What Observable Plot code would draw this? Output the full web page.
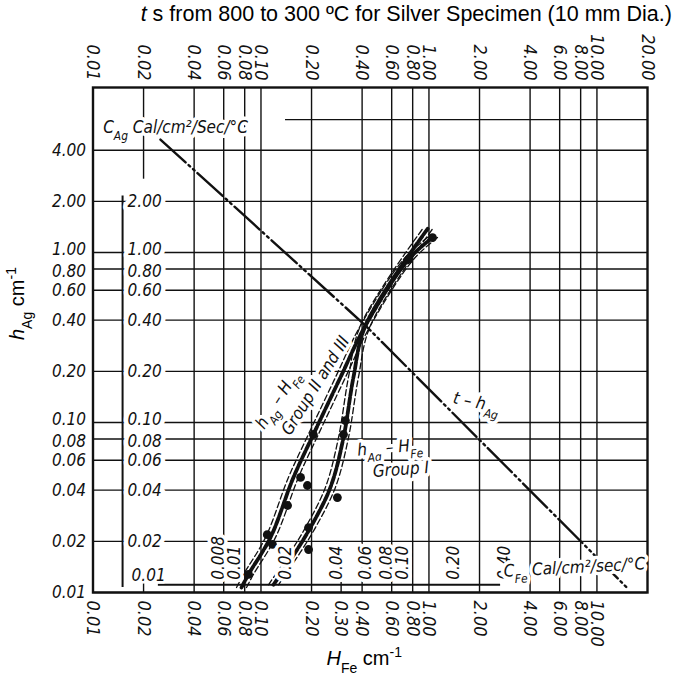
<!DOCTYPE html>
<html><head><meta charset="utf-8">
<script src="https://cdn.jsdelivr.net/npm/d3@7"></script>
<script src="https://cdn.jsdelivr.net/npm/@observablehq/plot@0.6"></script>
<style>body{margin:0;background:#fff;}</style>
</head><body><div id="chart"></div>
<script>
// ---------- data ----------
const xTopTicks = [0.01,0.02,0.04,0.06,0.08,0.1,0.2,0.4,0.6,0.8,1,2,4,6,8,10,20];
const xTopLabels = ["0.01","0.02","0.04","0.06","0.08","0.10","0.20","0.40","0.60","0.80","1.00","2.00","4.00","6.00","8.00","10.00","20.00"];
const xBottomTicks = [0.01,0.02,0.04,0.06,0.08,0.1,0.2,0.3,0.4,0.6,0.8,1,2,4,6,8,10];
const xBottomLabels = ["0.01","0.02","0.04","0.06","0.08","0.10","0.20","0.30","0.40","0.60","0.80","1.00","2.00","4.00","6.00","8.00","10.00"];
const xGrid = [0.04,0.06,0.08,0.1,0.2,0.4,0.6,0.8,1,2,4,6,8,10];
const yTicks = [4,2,1,0.8,0.6,0.4,0.2,0.1,0.08,0.06,0.04,0.02,0.01];
const yLabels = ["4.00","2.00","1.00","0.80","0.60","0.40","0.20","0.10","0.08","0.06","0.04","0.02","0.01"];
const cAgTicks = [2,1,0.8,0.6,0.4,0.2,0.1,0.08,0.06,0.04,0.02];
const cAgLabels = ["2.00","1.00","0.80","0.60","0.40","0.20","0.10","0.08","0.06","0.04","0.02"];
const cFeTicks = [0.008,0.01,0.02,0.04,0.06,0.08,0.1,0.2,0.4];
const cFeLabels = ["0.008","0.01","0.02","0.04","0.06","0.08","0.10","0.20","0.40"];
const cFeToHFe = 7.0;      // C_Fe scale read against H_Fe scale
const cAgAxisAt = 0.015;   // H_Fe value where inner C_Ag scale sits
const cFeAxisAt = 0.0111;  // h_Ag value where inner C_Fe scale sits
const nudgeUp = [1, 0.1];      // crowded labels lifted slightly
const nudgeDown = [0.8, 0.08]; // crowded labels lowered slightly

// h_Ag - H_Fe, Group II and III
const g23CurveH = [0.0766,0.0843,0.114,0.156,0.205,0.297,0.419,0.755,1.05];
const g23CurveHag = [0.0107,0.0128,0.0211,0.0475,0.085,0.184,0.372,0.91,1.225];
const g23DotH = [0.0843,0.109,0.117,0.144,0.172,0.189,0.205,0.755,1.05];
const g23DotHag = [0.0128,0.0219,0.0192,0.0325,0.0475,0.0426,0.085,0.91,1.225];
// h_Ag - H_Fe, Group I
const g1CurveH = [0.1187,0.160,0.197,0.259,0.31,0.355,0.419,0.993];
const g1CurveHag = [0.0111,0.0172,0.0241,0.0415,0.0816,0.184,0.372,1.40];
const g1DotH = [0.192,0.192,0.285,0.31,0.318];
const g1DotHag = [0.0179,0.0241,0.0362,0.085,0.1027];
// t - h_Ag
const tLineT = [0.0252,0.419,15.2];
const tLineHag = [4.62,0.372,0.0106];

const g23Curve = g23CurveH.map((H,i)=>({H, h:g23CurveHag[i]}));
const g23Dots = g23DotH.map((H,i)=>({H, h:g23DotHag[i]}));
const g1Curve = g1CurveH.map((H,i)=>({H, h:g1CurveHag[i]}));
const g1Dots = g1DotH.map((H,i)=>({H, h:g1DotHag[i]}));
const tLine = tLineT.map((t,i)=>({t, h:tLineHag[i]}));
const yTable = yTicks.map((v,i)=>({v, s:yLabels[i]}));
const cAgTable = cAgTicks.map((v,i)=>({v, s:cAgLabels[i]}));

const notes = [
  {x:0.1253, y:0.1365, r:-57, s:"h_{Ag} – H_{Fe}"},
  {x:0.211, y:0.165, r:-58, s:"Group II and III"},
  {x:0.585, y:0.0713, r:-5, s:"h_{Ag} – H_{Fe}"},
  {x:0.68, y:0.0529, r:-4, s:"Group I"},
  {x:1.918, y:0.131, r:12, s:"t – h_{Ag}"},
  {x:7.35, y:0.01403, r:-3, s:"C_{Fe} Cal/cm²/sec/°C"},
  {x:0.031, y:5.44, r:0, s:"C_{Ag} Cal/cm²/Sec/°C"}
];

const hand = "'DejaVu Sans Condensed','DejaVu Sans',sans-serif";
const sans = "'Liberation Sans',Arial,sans-serif";
const ink = "#111";
const isUp = d => nudgeUp.includes(d.v), isDown = d => nudgeDown.includes(d.v);
const isMid = d => !isUp(d) && !isDown(d);

function yLabelMarks(data, base){
  return [
    Plot.text(data, {...base, y:"v", text:"s", filter:isMid}),
    Plot.text(data, {...base, y:"v", text:"s", filter:isUp, dy:-3}),
    Plot.text(data, {...base, y:"v", text:"s", filter:isDown, dy:3})
  ];
}

const plot = Plot.plot({
  width: 685, height: 677,
  marginLeft: 92.5, marginRight: 38, marginTop: 87, marginBottom: 85,
  x: {type:"log", domain:[0.01,20], axis:null},
  y: {type:"log", domain:[0.01,9.35], axis:null},
  style: {background:"#fff", fontFamily: hand},
  marks: [
    Plot.ruleX(xGrid, {stroke:ink, strokeWidth:1.4}),
    Plot.ruleY(yTicks, {stroke:ink, strokeWidth:1.4}),
    Plot.ruleX([0.02], {y1:9.35, y2:2.7, stroke:ink, strokeWidth:1.4}),
    Plot.ruleX([0.02,0.3], {y1:0.01, y2:0.0115, stroke:ink, strokeWidth:1.4}),
    Plot.ruleY([6.05], {x1:0.14, x2:20, stroke:ink, strokeWidth:1.4}),
    Plot.frame({stroke:ink, strokeWidth:2.4}),
    Plot.ruleX([cAgAxisAt], {y1:0.0107, y2:2.15, stroke:ink, strokeWidth:2}),
    Plot.ruleY([cFeAxisAt], {x1:0.0245, x2:2.67, stroke:ink, strokeWidth:2}),
    // t - h_Ag line
    Plot.line(tLine, {x:"t", y:"h", stroke:ink, strokeWidth:2.4, strokeDasharray:"34,4,2,4,2,4"}),
    // Group II and III
    Plot.line(g23Curve, {x:"H", y:"h", stroke:ink, strokeWidth:1.3, strokeDasharray:"6,3", dx:-5, curve:"catmull-rom"}),
    Plot.line(g23Curve, {x:"H", y:"h", stroke:ink, strokeWidth:1.3, strokeDasharray:"6,3", dx:5, curve:"catmull-rom"}),
    Plot.line(g23Curve, {x:"H", y:"h", stroke:ink, strokeWidth:3.8, strokeDasharray:"7,2", curve:"catmull-rom"}),
    Plot.dot(g23Dots, {x:"H", y:"h", r:4.4, fill:ink}),
    // Group I
    Plot.line(g1Curve, {x:"H", y:"h", stroke:ink, strokeWidth:1.3, strokeDasharray:"6,3", dx:-5, curve:"catmull-rom"}),
    Plot.line(g1Curve, {x:"H", y:"h", stroke:ink, strokeWidth:1.3, strokeDasharray:"6,3", dx:5, curve:"catmull-rom"}),
    Plot.line(g1Curve, {x:"H", y:"h", stroke:ink, strokeWidth:3.8, strokeDasharray:"7,2", curve:"catmull-rom"}),
    Plot.dot(g1Dots, {x:"H", y:"h", r:4.4, fill:ink}),
    // outer axis labels
    ...yLabelMarks(yTable, {x:0.01, textAnchor:"end", dx:-7, fontSize:17, fontStyle:"italic", fill:ink}),
    Plot.text(xTopTicks, {x:d=>d, frameAnchor:"top", text:(d,i)=>xTopLabels[i], rotate:90, textAnchor:"end", lineAnchor:"middle", dy:-7, fontSize:18, fontStyle:"italic", fill:ink}),
    Plot.text(xBottomTicks, {x:d=>d, frameAnchor:"bottom", text:(d,i)=>xBottomLabels[i], rotate:90, textAnchor:"start", lineAnchor:"middle", dy:8, fontSize:18, fontStyle:"italic", fill:ink}),
    // inner scales
    ...yLabelMarks(cAgTable, {x:cAgAxisAt, textAnchor:"start", dx:5, fontSize:17, fontStyle:"italic", fill:ink, stroke:"#fff", strokeWidth:9, paintOrder:"stroke"}),
    Plot.text(["0.01"], {x:cAgAxisAt, y:cFeAxisAt, textAnchor:"start", dx:9, dy:-9, fontSize:17, fontStyle:"italic", fill:ink, stroke:"#fff", strokeWidth:5, paintOrder:"stroke"}),
    Plot.text(cFeTicks, {x:d=>d*cFeToHFe, y:cFeAxisAt, text:(d,i)=>cFeLabels[i], rotate:-90, textAnchor:"start", lineAnchor:"middle", dy:-5, fontSize:17, fontStyle:"italic", fill:ink, stroke:"#fff", strokeWidth:7, paintOrder:"stroke"}),
    // annotations
    Plot.text(notes, {x:"x", y:"y", text:"s", rotate:"r", fontSize:17, fontStyle:"italic", fill:ink, stroke:"#fff", strokeWidth:7, paintOrder:"stroke"}),
    // title and axis titles
    Plot.text(["*t* s from 800 to 300 ºC for Silver Specimen (10 mm Dia.)"], {frameAnchor:"top", dx:36, dy:-73, lineAnchor:"middle", fontSize:21.5, fontFamily:sans, fill:"#000"}),
    Plot.text(["*H*_{Fe} cm^{-1}"], {frameAnchor:"bottom", dx:-6, dy:66, lineAnchor:"middle", fontSize:20, fontFamily:sans, fill:"#000"}),
    Plot.text(["*h*_{Ag} cm^{-1}"], {frameAnchor:"left", dx:-75, rotate:-90, lineAnchor:"middle", fontSize:20, fontFamily:sans, fill:"#000"})
  ]
});

// rich text: _{sub}, ^{sup}, *italic*
function rich(svg){
  svg.querySelectorAll("text").forEach(t=>{
    if (t.querySelector("tspan")) return;
    const s = t.textContent;
    if (!/_\{|\^\{|\*/.test(s)) return;
    const parts = s.split(/(_\{[^}]*\}|\^\{[^}]*\}|\*[^*]*\*)/).filter(p=>p.length);
    t.textContent = "";
    const ns = "http://www.w3.org/2000/svg";
    parts.forEach(p=>{
      const ts = document.createElementNS(ns,"tspan");
      if (p.startsWith("_{")) { ts.textContent=p.slice(2,-1); ts.setAttribute("font-size","70%"); ts.setAttribute("baseline-shift","sub"); }
      else if (p.startsWith("^{")) { ts.textContent=p.slice(2,-1); ts.setAttribute("font-size","70%"); ts.setAttribute("baseline-shift","super"); }
      else if (p.startsWith("*")) { ts.textContent=p.slice(1,-1); ts.setAttribute("font-style","italic"); }
      else ts.textContent=p;
      t.appendChild(ts);
    });
  });
}
rich(plot);
document.getElementById("chart").appendChild(plot);
</script>
</body></html>
